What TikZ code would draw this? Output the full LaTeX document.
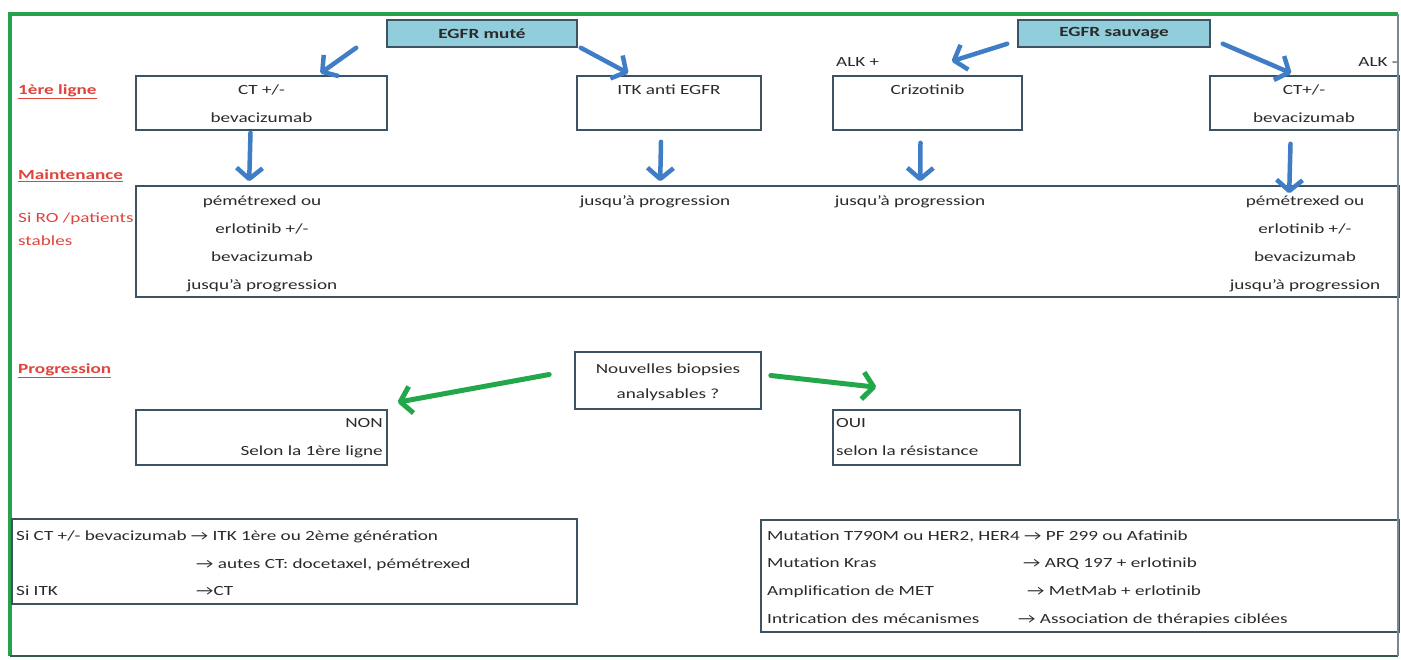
\documentclass[tikz,border=0pt]{standalone}
\usepackage{fontspec}
\setmainfont{Carlito}[FakeStretch=1.37]
\usetikzlibrary{arrows.meta,calc}
\definecolor{framegreen}{HTML}{27A24A}
\definecolor{framedark}{HTML}{2E5E45}
\definecolor{boxline}{HTML}{3C5364}
\definecolor{hdrfill}{HTML}{92CDDC}
\definecolor{arrblue}{HTML}{3F7DC6}
\definecolor{arrgreen}{HTML}{22A84A}
\definecolor{lblred}{HTML}{E0443C}
\definecolor{txtcol}{HTML}{2A2A2A}
\begin{document}
\begin{tikzpicture}[x=1pt,y=-1pt,
  box/.style={draw=boxline,line width=1.6pt,inner sep=0pt,fill=white},
  hdr/.style={box,fill=hdrfill,font=\fontsize{14}{16}\selectfont\bfseries,text=txtcol},
  txt/.style={inner sep=0pt,anchor=mid,yshift=-2.5pt,font=\fontsize{14}{16}\selectfont,text=txtcol},
  txtl/.style={txt,anchor=mid west},
  txtr/.style={txt,anchor=mid east},
  lbl/.style={txtl,text=lblred,font=\fontsize{14}{16}\selectfont\bfseries},
  lbln/.style={txtl,text=lblred},
  barrow/.style={draw=arrblue,line width=4.5pt,line cap=round,line join=round,
    -{Straight Barb[length=11pt,width=26pt,line join=round]}},
  garrow/.style={draw=arrgreen,line width=5pt,line cap=round,line join=round,
    -{Straight Barb[length=11pt,width=27pt,line join=round]}}]
\useasboundingbox (0,0) rectangle (1401,659);
\fill[white] (0,0) rectangle (1401,659);
% frame
\draw[framegreen,line width=4pt] (10,656) -- (10,14) -- (1398,14);
\draw[framedark,line width=2.5pt] (10,656) -- (1398,656);
% boxes
\node[hdr,minimum width=190,minimum height=27] (mute) at (482,33.5) {EGFR muté};
\node[hdr,minimum width=192,minimum height=27] (sauv) at (1114,33.5) {EGFR sauvage};
\node[box,minimum width=251,minimum height=54] (ct1) at (261.5,103) {};
\node[box,minimum width=184,minimum height=54] (itk) at (669,103) {};
\node[box,minimum width=189,minimum height=54] (criz) at (927.5,103) {};
\node[box,minimum width=189,minimum height=54] (ct2) at (1304.5,103) {};
\node[box,minimum width=1263,minimum height=111] (maint) at (767.5,241.5) {};
\node[box,minimum width=186,minimum height=57] (biop) at (668,380.5) {};
\node[box,minimum width=251,minimum height=55] (non) at (261.5,437.5) {};
\node[box,minimum width=187,minimum height=55] (oui) at (926.5,437.5) {};
\node[box,minimum width=565,minimum height=85] (bl) at (294.5,561.5) {};
\node[box,minimum width=638,minimum height=112] (br) at (1080,576) {};
% frame right edge over the clipped boxes
\draw[boxline!70,line width=1.2pt] (1398,14) -- (1398,656);
% left labels
\node[lbl] (l1) at (18,90) {\underline{1ère ligne}};
\node[lbl] (l2) at (18,175) {\underline{Maintenance}};
\node[lbln] (l3) at (18,218) {Si RO /patients};
\node[lbln] (l4) at (18,241) {stables};
\node[lbl] (l5) at (18,369) {\underline{Progression}};
% ALK labels
\node[txtl] (alkp) at (836,62) {ALK +};
\node[txtr] (alkm) at (1398,62) {ALK -};
% box texts
\node[txt] (t1a) at (261.5,90) {CT +/-};
\node[txt] (t1b) at (261.5,118) {bevacizumab};
\node[txt] (t2) at (669,90) {ITK anti EGFR};
\node[txt] (t3) at (927.5,90) {Crizotinib};
\node[txt] (t4a) at (1304,90) {CT+/-};
\node[txt] (t4b) at (1304,118) {bevacizumab};
\node[txt] (m1) at (262,201) {pémétrexed ou};
\node[txt] (m2) at (262,229) {erlotinib +/-};
\node[txt] (m3) at (262,257) {bevacizumab};
\node[txt] (m4) at (262,285) {jusqu'à progression};
\node[txt] (m5) at (655,201) {jusqu'à progression};
\node[txt] (m6) at (910,201) {jusqu'à progression};
\node[txt] (m7) at (1305,201) {pémétrexed ou};
\node[txt] (m8) at (1305,229) {erlotinib +/-};
\node[txt] (m9) at (1305,257) {bevacizumab};
\node[txt] (m10) at (1305,285) {jusqu'à progression};
\node[txt] (b1) at (668,369) {Nouvelles biopsies};
\node[txt] (b2) at (668,394) {analysables ?};
\node[txtr] (n1) at (383,423) {NON};
\node[txtr] (n2) at (383,451) {Selon la 1ère ligne};
\node[txtl] (o1) at (836,423) {OUI};
\node[txtl] (o2) at (836,451) {selon la résistance};
\node[txtl] (bl1) at (16,536) {Si CT +/- bevacizumab → ITK 1ère ou 2ème génération};
\node[txtl] (bl2) at (196,564) {→ autes CT: docetaxel, pémétrexed};
\node[txtl] (bl3) at (16,591) {Si ITK};
\node[txtl] (bl4) at (196,591) {→CT};
\node[txtl] (br1) at (767,536) {Mutation T790M ou HER2, HER4 → PF 299 ou Afatinib};
\node[txtl] (br2) at (767,563) {Mutation Kras};
\node[txtl] (br3) at (1023,563) {→ ARQ 197 + erlotinib};
\node[txtl] (br4) at (767,591) {Amplification de MET};
\node[txtl] (br5) at (1027,591) {→ MetMab + erlotinib};
\node[txtl] (br6) at (767,619) {Intrication des mécanismes};
\node[txtl] (br7) at (1018,619) {→ Association de thérapies ciblées};
% blue arrows
\draw[barrow] ($(mute.south west)+(-30,0)$) -- ($(ct1.north)+(59,-2)$);
\draw[barrow] ($(mute.south east)+(3,0)$) -- ($(itk.north west)+(52,-2)$);
\draw[barrow] ($(sauv.south west)+(-10,-4)$) -- ($(criz.north east)+(-71,-14)$);
\draw[barrow] ($(sauv.south east)+(12,-4)$) -- ($(ct2.north west)+(82,-2)$);
\draw[barrow] ($(ct1.south)+(-11,2)$) -- ($(maint.north west)+(114,-4)$);
\draw[barrow] ($(itk.south)+(-8,11)$) -- ($(maint.north west)+(525,-4)$);
\draw[barrow] ($(criz.south)+(-7,12)$) -- ($(maint.north west)+(785,-4)$);
\draw[barrow] ($(ct2.south)+(-14,13)$) -- ($(maint.north west)+(1154,8)$);
% green arrows
\draw[garrow] ($(biop.west)+(-25,-6)$) -- ($(non.north east)+(10,-7)$);
\draw[garrow] ($(biop.east)+(9,-5)$) -- ($(oui.north west)+(44,-22)$);
\end{tikzpicture}
\end{document}
